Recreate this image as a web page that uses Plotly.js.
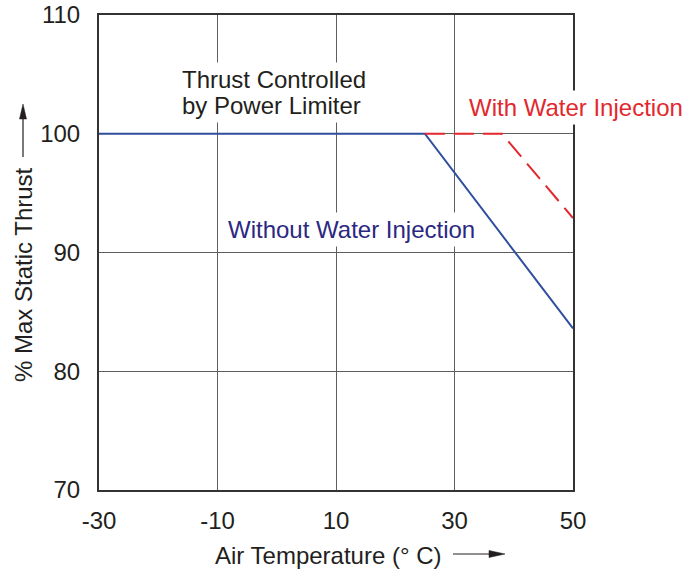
<!DOCTYPE html>
<html>
<head>
<meta charset="utf-8">
<script src="https://cdn.plot.ly/plotly-3.0.1.min.js"></script>
<style>html,body{margin:0;padding:0;background:#fff;}</style>
</head>
<body>
<div id="chart" style="width:689px;height:571px;"></div>
<script>
// ---- data ----
const tempWithout = [-30, 25, 50];
const thrustWithout = [100, 100, 83.6];
const tempWith = [25, 38, 50];
const thrustWith = [100, 100, 92.9];
const xTicks = [-30, -10, 10, 30, 50];
const xTickLabels = ['-30', '-10', '10', '30', '50'];
const yTicks = [70, 80, 90, 100, 110];
const yTickLabels = ['70', '80', '90', '100', '110'];

// ---- layout helpers (pixel -> paper) ----
const L = 99, R = 573, T = 15, B = 490;
const PX = p => (p - L) / (R - L);
const PY = p => (B - p) / (B - T);
const FONT = 'Liberation Sans, Arial, Helvetica, sans-serif';
const INK = '#231f20';
const FS = 24;

const traces = [
  {x: tempWithout, y: thrustWithout, type: 'scatter', mode: 'lines',
   line: {color: '#2f4e9c', width: 2}, hoverinfo: 'skip'},
  {x: tempWith, y: thrustWith, type: 'scatter', mode: 'lines',
   line: {color: '#e2282e', width: 2, dash: '20px,9px'}, hoverinfo: 'skip'}
];

function label(text, xp, yp, color, extra) {
  return Object.assign({
    text: text, xref: 'paper', yref: 'paper', x: PX(xp), y: PY(yp),
    xanchor: 'left', yanchor: 'middle', showarrow: false,
    font: {family: FONT, size: FS, color: color},
    bgcolor: '#ffffff', borderpad: 3
  }, extra || {});
}

const annotations = [
  label('Thrust Controlled', 178, 80, INK),
  label('by Power Limiter', 178, 105, INK),
  label('Without Water Injection', 224, 230, '#2b2882'),
  label('With Water Injection', 465, 107, '#e2282e'),
  {text: 'Air Temperature (° C)', xref: 'paper', yref: 'paper',
   x: PX(328.5), y: PY(555), xanchor: 'center', yanchor: 'middle', showarrow: false,
   font: {family: FONT, size: FS, color: INK}},
  {text: '% Max Static Thrust', xref: 'paper', yref: 'paper', textangle: -90,
   x: PX(24), y: PY(275), xanchor: 'center', yanchor: 'middle', showarrow: false,
   font: {family: FONT, size: FS, color: INK}}
];

const shapes = [
  // y-title arrow
  {type: 'line', xref: 'paper', yref: 'paper', x0: PX(23), x1: PX(23), y0: PY(157), y1: PY(116),
   line: {color: INK, width: 1.2}},
  {type: 'path', xref: 'paper', yref: 'paper',
   path: `M${PX(23)},${PY(104)} L${PX(19.5)},${PY(119)} L${PX(26.5)},${PY(119)} Z`,
   fillcolor: INK, line: {color: INK, width: 0.5}},
  // x-title arrow
  {type: 'line', xref: 'paper', yref: 'paper', x0: PX(453), x1: PX(492), y0: PY(554), y1: PY(554),
   line: {color: INK, width: 1.2}},
  {type: 'path', xref: 'paper', yref: 'paper',
   path: `M${PX(505)},${PY(554)} L${PX(489)},${PY(550.5)} L${PX(489)},${PY(557.5)} Z`,
   fillcolor: INK, line: {color: INK, width: 0.5}}
];

const axisCommon = {
  showgrid: true, gridcolor: '#5e5e5e', gridwidth: 1,
  showline: true, mirror: true, linecolor: '#333333', linewidth: 2,
  zeroline: false, ticks: '', tickmode: 'array',
  tickfont: {family: FONT, size: FS, color: INK}, fixedrange: true
};

const layout = {
  width: 689, height: 571,
  margin: {l: L, r: 689 - R, t: T, b: 571 - B, pad: 0},
  paper_bgcolor: '#ffffff', plot_bgcolor: '#ffffff',
  showlegend: false,
  font: {family: FONT, color: INK},
  xaxis: Object.assign({}, axisCommon, {range: [-30, 50], tickvals: xTicks, ticktext: xTickLabels,
    ticklabelstandoff: 8}),
  yaxis: Object.assign({}, axisCommon, {range: [70, 110], tickvals: yTicks, ticktext: yTickLabels,
    ticklabelstandoff: 12}),
  annotations: annotations,
  shapes: shapes
};

Plotly.newPlot('chart', traces, layout, {displayModeBar: false, staticPlot: true});
</script>
</body>
</html>
